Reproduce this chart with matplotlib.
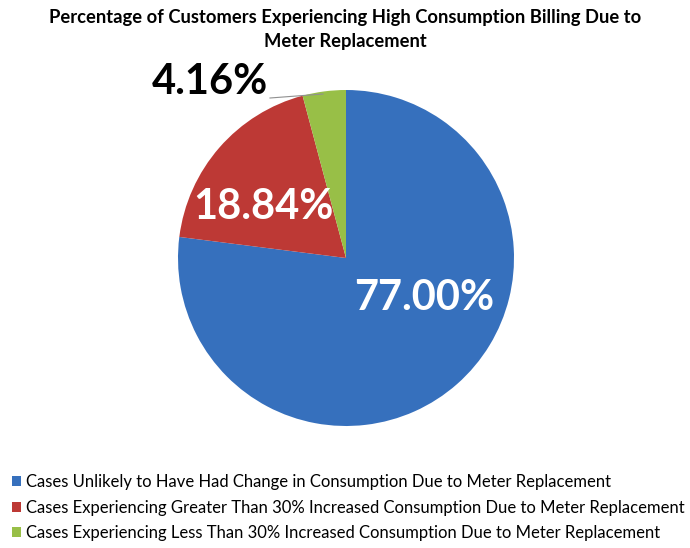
import matplotlib
matplotlib.use("Agg")
import matplotlib.pyplot as plt
from matplotlib.patches import Patch

plt.rcParams['font.family'] = ['Lato', 'DejaVu Sans']

# доли случаев
labels = ["Cases Unlikely to Have Had Change in Consumption Due to Meter Replacement",
          "Cases Experiencing Greater Than 30% Increased Consumption Due to Meter Replacement",
          "Cases Experiencing Less Than 30% Increased Consumption Due to Meter Replacement"]
shares = [77.00, 18.84, 4.16]
colors = ["#3670bd", "#bd3935", "#98bf47"]

fig = plt.figure(figsize=(6.9, 5.48), dpi=100)
ax = fig.add_axes([0, 0, 1, 1])

wedges, _ = ax.pie(shares, colors=colors, startangle=90, counterclock=False,
                   center=(346, 290), radius=168, frame=True,
                   wedgeprops=dict(linewidth=0))
ax.set_xlim(0, 690)
ax.set_ylim(0, 548)
ax.set_aspect('equal')
ax.axis('off')

# подписи долей
ax.text(424, 250, "%.2f%%" % shares[0], color='white', fontsize=30, fontweight='bold',
        ha='center', va='center')
ax.text(263, 341, "%.2f%%" % shares[1], color='white', fontsize=30, fontweight='bold',
        ha='center', va='center')
ax.text(210, 466, "%.2f%%" % shares[2], color='black', fontsize=30, fontweight='bold',
        ha='center', va='center')
ax.plot([270, 323], [450, 454], color='#909090', linewidth=0.8)

ax.text(345, 530, "Percentage of Customers Experiencing High Consumption Billing Due to",
        ha='center', va='center', fontsize=13.2, fontweight='bold')
ax.text(345, 506, "Meter Replacement", ha='center', va='center', fontsize=13.2, fontweight='bold')

handles = [Patch(facecolor=c, label=l) for c, l in zip(colors, labels)]
ax.legend(handles=handles, loc='lower left', bbox_to_anchor=(0.003, -0.006), frameon=False,
          fontsize=12, handlelength=0.55, handleheight=0.55, handletextpad=0.3,
          labelspacing=0.58, borderaxespad=0.2)

fig.savefig("out.png", dpi=100)
